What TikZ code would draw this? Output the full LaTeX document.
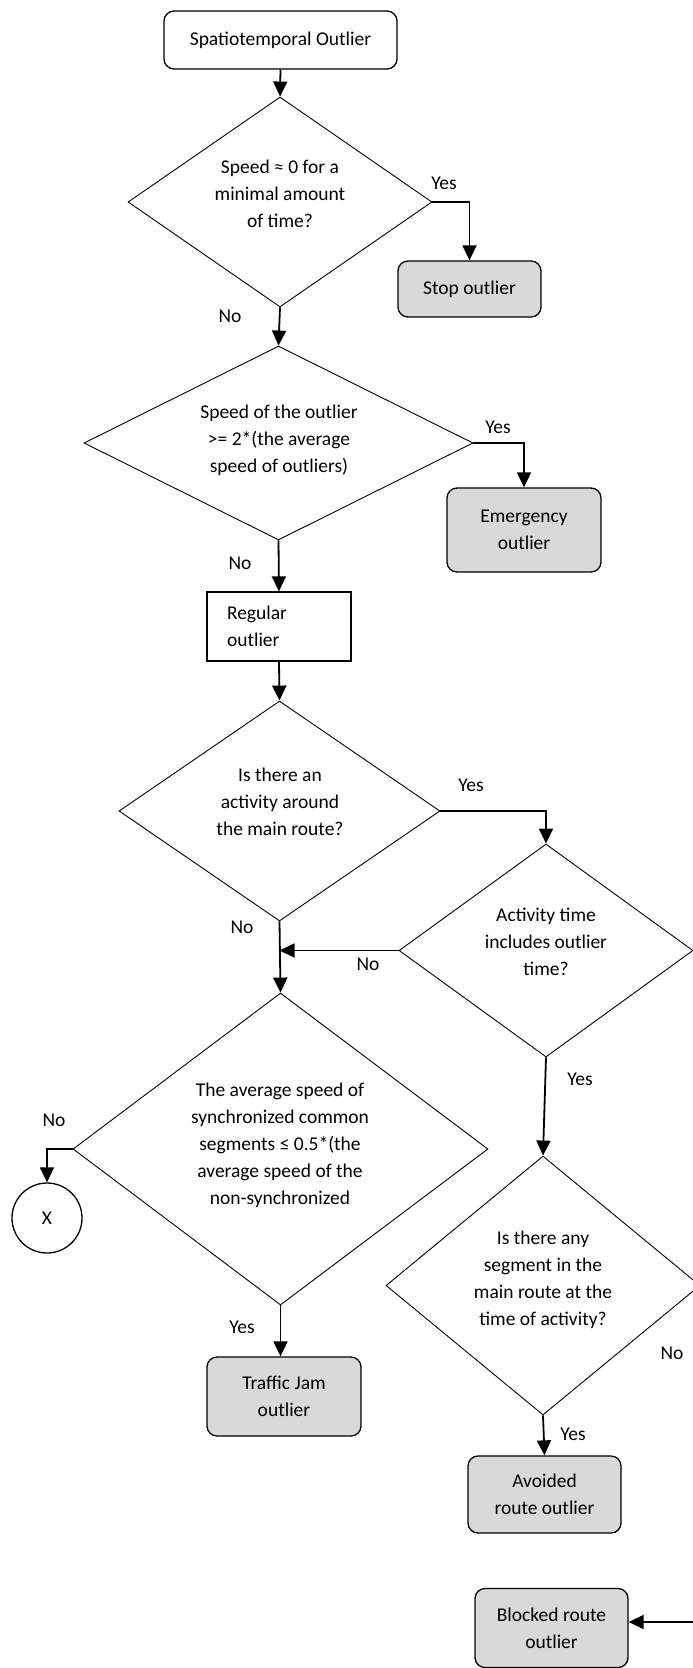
\documentclass[tikz,border=0pt]{standalone}
\usepackage{fontspec}
\setmainfont{Carlito}
\usetikzlibrary{shapes.geometric,arrows.meta}
\definecolor{boxgray}{RGB}{217,217,217}
\begin{document}
\begin{tikzpicture}[x=1pt,y=-1pt,
  every node/.style={font=\fontsize{19.5}{27}\selectfont},
  box/.style={draw,line width=1.3pt,rounded corners=10pt,align=center,inner sep=0pt},
  endbox/.style={box,fill=boxgray},
  dia/.style={draw,diamond,line width=0.9pt,inner sep=0pt},
  txt/.style={align=center,inner sep=0pt},
  lbl/.style={inner sep=0pt},
  conn/.style={line width=1.8pt,-{Triangle[length=15pt,width=14pt]}}
]
\useasboundingbox (0,0) rectangle (693,1668);
\clip (0,0) rectangle (693,1668);

% boxes
\node[box,minimum width=233pt,minimum height=58pt] (start) at (280.5,40) {Spatiotemporal Outlier};
\node[endbox,minimum width=143pt,minimum height=56pt] (stop) at (469.5,289) {Stop outlier};
\node[endbox,minimum width=154pt,minimum height=84pt] (emer) at (524,530) {Emergency\\outlier};
\node[draw,line width=1.3pt,minimum width=144pt,minimum height=69pt,text width=104pt,align=left,inner xsep=20pt,inner ysep=0pt] (reg) at (279,626.5) {Regular\\outlier};
\node[endbox,minimum width=154pt,minimum height=79pt] (jam) at (284,1396.5) {Traffic Jam\\outlier};
\node[endbox,minimum width=153pt,minimum height=77pt] (avoid) at (544.5,1494.5) {Avoided\\route outlier};
\node[endbox,minimum width=153pt,minimum height=79pt] (block) at (551.5,1628) {Blocked route\\outlier};
\node[draw,circle,line width=1.3pt,minimum size=70pt,inner sep=0pt] (x) at (47,1218) {X};

% diamonds
\node[dia,minimum width=304pt,minimum height=210pt] (d1) at (280,202) {};
\node[dia,minimum width=389pt,minimum height=194pt] (d2) at (278.5,443) {};
\node[dia,minimum width=321pt,minimum height=220pt] (d3) at (279.5,811) {};
\node[dia,minimum width=294pt,minimum height=213pt] (d4) at (546,950.5) {};
\node[dia,minimum width=415pt,minimum height=312pt] (d5) at (280.5,1149) {};
\node[dia,minimum width=314pt,minimum height=259pt] (d6) at (543,1285.5) {};

% diamond texts
\node[txt] (t1) at (280,194) {Speed ≈ 0 for a\\minimal amount\\of time?};
\node[txt] (t2) at (279,440) {Speed of the outlier\\>= 2*(the average\\speed of outliers)};
\node[txt] (t3) at (280,802) {Is there an\\activity around\\the main route?};
\node[txt] (t4) at (546,942) {Activity time\\includes outlier\\time?};
\node[txt] (t5) at (280,1145) {The average speed of\\synchronized common\\segments ≤ 0.5*(the\\average speed of the\\non-synchronized};
\node[txt] (t6) at (543,1280) {Is there any\\segment in the\\main route at the\\time of activity?};

% connectors
\draw[conn] (start.south) -- (d1.north);
\draw[conn] (d1.east) -| (stop.north);
\draw[conn] (d1.south) -- (d2.north);
\draw[conn] (d2.east) -| (emer.north);
\draw[conn] (d2.south) -- (reg.north);
\draw[conn] (reg.south) -- (d3.north);
\draw[conn] (d3.east) -| (d4.north);
\draw[conn] (d3.south) -- (d5.north);
\draw[conn] (d4.west) -- (d4.west -| d3.south);
\draw[conn] (d5.west) -| (x.north);
\draw[conn] (d5.south) -- (d5.south |- jam.north);
\draw[conn] (d4.south) -- (d6.north);
\draw[conn] (d6.south) -- (avoid.north);
\coordinate (edge) at (693,1622);
\draw[conn] (edge) -- (edge -| block.east);

% labels
\node[lbl] (l1) at (444,183) {Yes};
\node[lbl] (l2) at (230,316) {No};
\node[lbl] (l3) at (498,427) {Yes};
\node[lbl] (l4) at (240,563) {No};
\node[lbl] (l5) at (471,785) {Yes};
\node[lbl] (l6) at (242,927) {No};
\node[lbl] (l7) at (368,964) {No};
\node[lbl] (l8) at (54,1120) {No};
\node[lbl] (l9) at (580,1079) {Yes};
\node[lbl] (l10) at (242,1327) {Yes};
\node[lbl] (l11) at (672,1353) {No};
\node[lbl] (l12) at (573,1434) {Yes};
\end{tikzpicture}
\end{document}
